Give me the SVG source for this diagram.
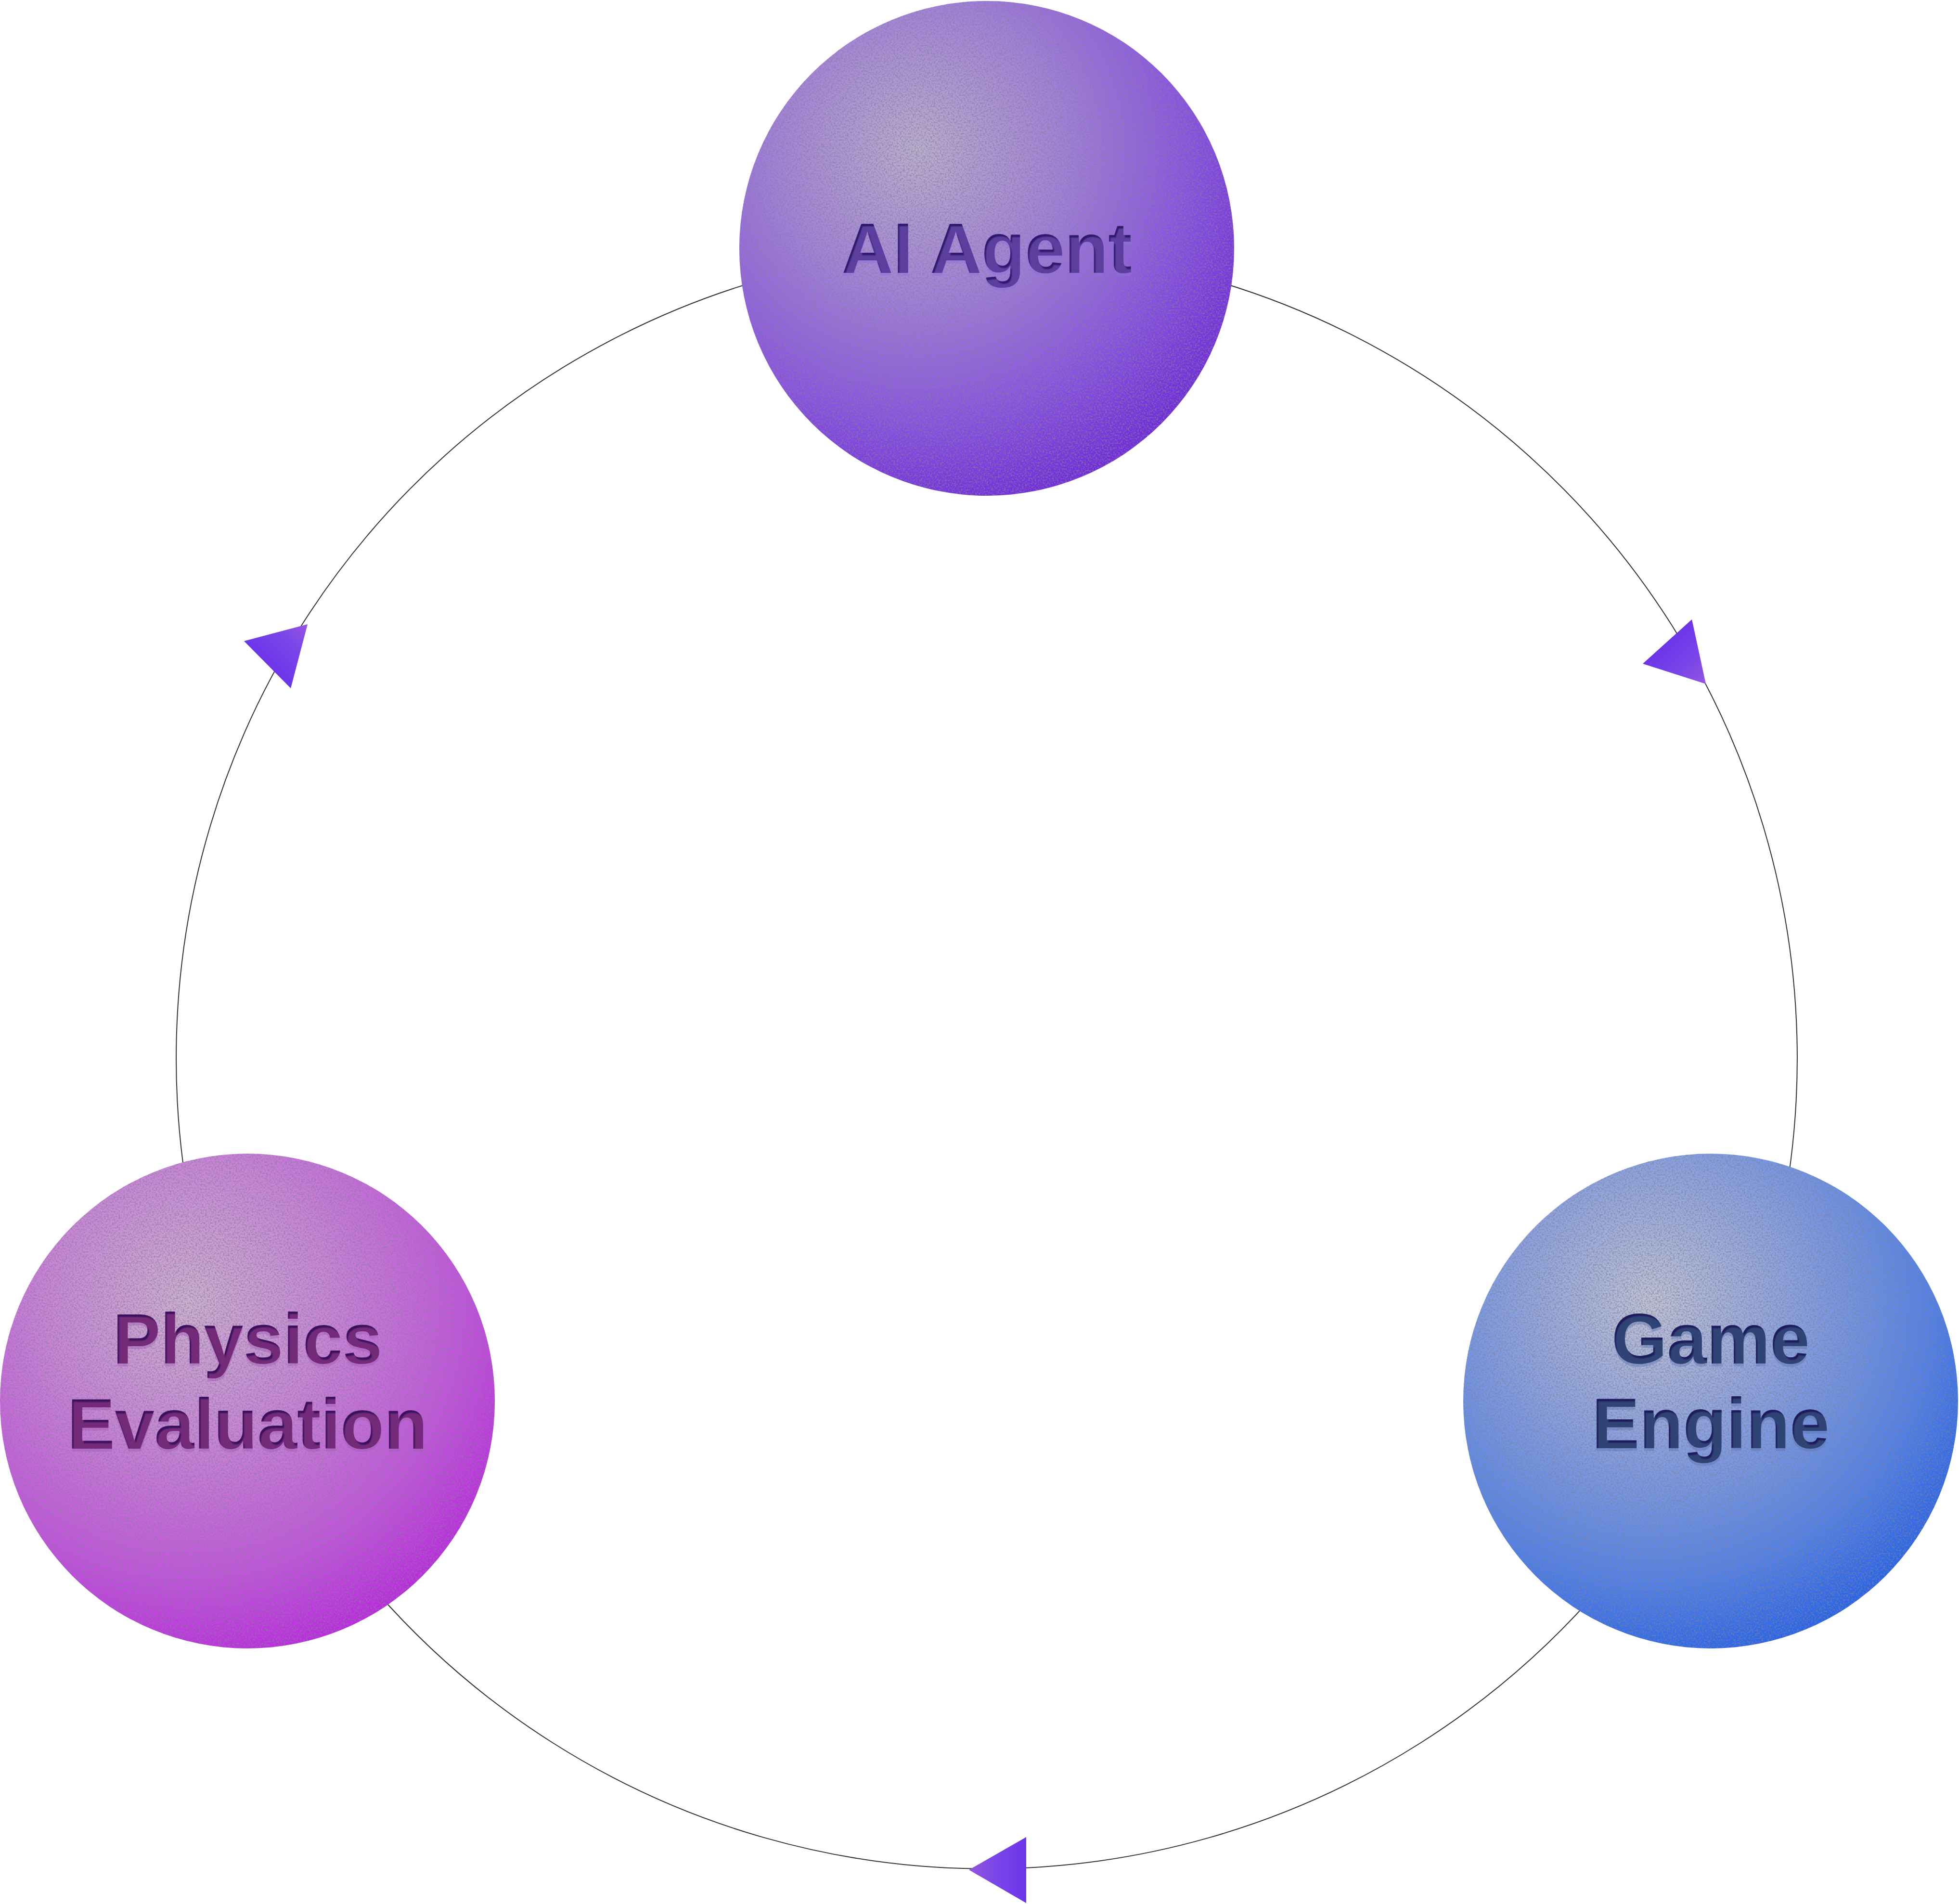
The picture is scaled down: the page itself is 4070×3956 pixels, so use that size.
<svg xmlns="http://www.w3.org/2000/svg" width="4070" height="3956" viewBox="0 0 4070 3956">
  <defs>
    <style>
      .ring { fill: none; stroke: #333333; stroke-width: 2; }
      .label { font-family: "Liberation Sans", Arial, sans-serif; font-weight: 700; font-size: 148px; text-anchor: middle; filter: url(#emboss); }
      .grain { fill: #000; filter: url(#noise); opacity: 0.65; }
    </style>
    <radialGradient id="gAI" cx="0.36" cy="0.3" r="0.8" fx="0.36" fy="0.3">
      <stop offset="0" stop-color="#bcaed0"/>
      <stop offset="0.35" stop-color="#a482dc"/>
      <stop offset="0.7" stop-color="#884ee6"/>
      <stop offset="1" stop-color="#6a1edc"/>
    </radialGradient>
    <radialGradient id="gPhys" cx="0.38" cy="0.3" r="0.8" fx="0.38" fy="0.3">
      <stop offset="0" stop-color="#cfb0d2"/>
      <stop offset="0.35" stop-color="#cb84da"/>
      <stop offset="0.7" stop-color="#c650e2"/>
      <stop offset="1" stop-color="#bc16e4"/>
    </radialGradient>
    <radialGradient id="gGame" cx="0.38" cy="0.3" r="0.8" fx="0.38" fy="0.3">
      <stop offset="0" stop-color="#bfc3d6"/>
      <stop offset="0.35" stop-color="#89a2e2"/>
      <stop offset="0.7" stop-color="#4f82ec"/>
      <stop offset="1" stop-color="#1458ec"/>
    </radialGradient>
    <linearGradient id="gA1" gradientUnits="userSpaceOnUse" x1="3464" y1="1333" x2="3544" y2="1421">
      <stop offset="0" stop-color="#6c35ea"/>
      <stop offset="0.55" stop-color="#7a46e8"/>
      <stop offset="1" stop-color="#9456de"/>
    </linearGradient>
    <linearGradient id="gA2" gradientUnits="userSpaceOnUse" x1="2132" y1="3885" x2="2013" y2="3885">
      <stop offset="0" stop-color="#6c35ea"/>
      <stop offset="0.55" stop-color="#7a46e8"/>
      <stop offset="1" stop-color="#9456de"/>
    </linearGradient>
    <linearGradient id="gA3" gradientUnits="userSpaceOnUse" x1="555" y1="1381" x2="639" y2="1297">
      <stop offset="0" stop-color="#6c35ea"/>
      <stop offset="0.55" stop-color="#7a46e8"/>
      <stop offset="1" stop-color="#9456de"/>
    </linearGradient>
    <filter id="noise" x="0" y="0" width="100%" height="100%" color-interpolation-filters="sRGB">
      <feTurbulence type="fractalNoise" baseFrequency="0.3" numOctaves="2" seed="7" result="t"/>
      <feColorMatrix in="t" type="matrix" values="0 0 0 0 0.52  0 0 0 0 0.5  0 0 0 0 0.58  3.2 0 0 0 -1.35" result="n"/>
      <feComposite in="n" in2="SourceAlpha" operator="in"/>
    </filter>
    <filter id="emboss" x="-5%" y="-20%" width="110%" height="150%" color-interpolation-filters="sRGB">
      <feOffset in="SourceGraphic" dx="0" dy="6" result="low"/>
      <feColorMatrix in="low" type="matrix" values="1 0 0 0 0.2  0 1 0 0 0.2  0 0 1 0 0.25  0 0 0 0.45 0" result="lowLight"/>
      <feOffset in="SourceAlpha" dx="3" dy="5" result="sh"/>
      <feComposite in="SourceAlpha" in2="sh" operator="out" result="edge"/>
      <feGaussianBlur in="edge" stdDeviation="1" result="edgeB"/>
      <feComposite in="edgeB" in2="SourceAlpha" operator="in" result="edgeIn"/>
      <feColorMatrix in="edgeIn" type="matrix" values="0 0 0 0 0.08  0 0 0 0 0  0 0 0 0 0.3  0 0 0 0.65 0" result="innerShadow"/>
      <feMerge>
        <feMergeNode in="lowLight"/>
        <feMergeNode in="SourceGraphic"/>
        <feMergeNode in="innerShadow"/>
      </feMerge>
    </filter>
  </defs>
  <rect width="4070" height="3956" fill="#ffffff"/>
  <g id="connectors">
    <path class="ring" d="M 2050 515 A 1684 1684 0 0 1 3572 2919.5"/>
    <path class="ring" d="M 3572 2919.5 A 1684 1684 0 0 1 528 2919.5"/>
    <path class="ring" d="M 528 2919.5 A 1684 1684 0 0 1 2050 515"/>
    <polygon points="3515,1287 3413,1379 3544,1421" fill="url(#gA1)"/>
    <polygon points="2013,3885 2132,3817 2132,3954" fill="url(#gA2)"/>
    <polygon points="639,1297 507,1332 604,1430" fill="url(#gA3)"/>
  </g>
  <g id="node-ai-agent">
    <circle cx="2050" cy="516" r="514" fill="url(#gAI)"/>
    <circle class="grain" cx="2050" cy="516" r="514"/>
    <text class="label" x="2050" y="567" fill="#5b3e9e">AI Agent</text>
  </g>
  <g id="node-physics-evaluation">
    <circle cx="514" cy="2911" r="514" fill="url(#gPhys)"/>
    <circle class="grain" cx="514" cy="2911" r="514"/>
    <text class="label" x="514" y="2833" fill="#722a79">Physics</text>
    <text class="label" x="514" y="3010" fill="#722a79">Evaluation</text>
  </g>
  <g id="node-game-engine">
    <circle cx="3554" cy="2911" r="514" fill="url(#gGame)"/>
    <circle class="grain" cx="3554" cy="2911" r="514"/>
    <text class="label" x="3554" y="2833" fill="#2f4375">Game</text>
    <text class="label" x="3554" y="3009" fill="#2f4375">Engine</text>
  </g>
</svg>
